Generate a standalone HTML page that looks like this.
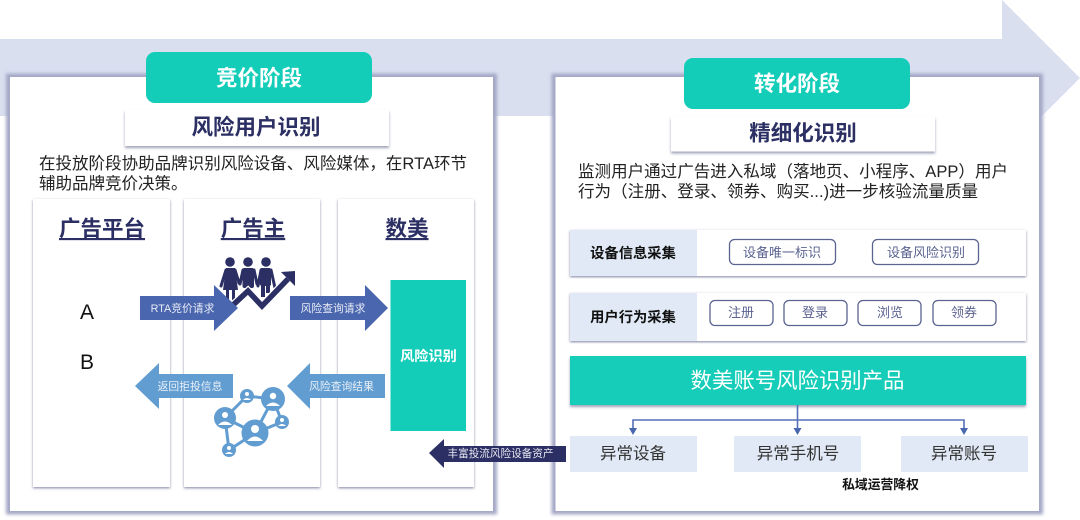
<!DOCTYPE html>
<html><head><meta charset="utf-8">
<style>
html,body{margin:0;padding:0;background:#fff;width:1080px;height:520px;overflow:hidden}
svg{display:block;filter:blur(.35px)}
text{font-family:"Liberation Sans","Noto Sans CJK SC",sans-serif}
.b{font-weight:700}
</style></head><body>
<svg width="1080" height="520" viewBox="0 0 1080 520" xmlns="http://www.w3.org/2000/svg">
<defs>
<filter id="bl" x="-5%" y="-5%" width="110%" height="110%"><feGaussianBlur stdDeviation="1.5"/></filter>
<filter id="s2" x="-5%" y="-5%" width="110%" height="110%"><feDropShadow dx="0" dy="1.2" stdDeviation="1.3" flood-color="#3a4272" flood-opacity=".6"/></filter>
<filter id="s3" x="-5%" y="-20%" width="110%" height="140%"><feDropShadow dx="0" dy="2" stdDeviation="1.2" flood-color="#2a3060" flood-opacity=".45"/></filter>
</defs>
<polygon points="0,39 1002,39 1002,0 1080,78 1002,156 1002,116 0,116" fill="#d9dfef"/>
<rect x="6" y="73.5" width="491" height="441" fill="#a4a8c6" filter="url(#bl)"/>
<rect x="10" y="77" width="483" height="434" fill="#fff"/>
<rect x="551.5" y="73.5" width="491.5" height="441" fill="#a4a8c6" filter="url(#bl)"/>
<rect x="555.5" y="77" width="483.5" height="434" fill="#fff"/>
<rect x="146" y="52" width="226" height="51" rx="9" fill="#13cdb9"/>
<text x="259" y="85.5" font-size="21.5" fill="#fff" text-anchor="middle" class="b">竞价阶段</text>
<rect x="125" y="110" width="264" height="36" fill="#fff" filter="url(#s3)"/>
<text x="256" y="134.5" font-size="21.5" fill="#2b2f63" text-anchor="middle" class="b">风险用户识别</text>
<text x="39" y="169" font-size="16.5" fill="#222" textLength="428">在投放阶段协助品牌识别风险设备、风险媒体&#xFF0C;在RTA环节</text>
<text x="39" y="189" font-size="16.5" fill="#222">辅助品牌竞价决策。</text>
<rect x="33" y="199" width="137" height="288" fill="#fff" filter="url(#s2)"/>
<rect x="184" y="199" width="136" height="288" fill="#fff" filter="url(#s2)"/>
<rect x="338" y="199" width="136" height="288" fill="#fff" filter="url(#s2)"/>
<text x="102" y="236" font-size="21.5" fill="#2b2f63" text-anchor="middle" class="b" text-decoration="underline">广告平台</text>
<text x="253" y="236" font-size="21.5" fill="#2b2f63" text-anchor="middle" class="b" text-decoration="underline">广告主</text>
<text x="407" y="236" font-size="21.5" fill="#2b2f63" text-anchor="middle" class="b" text-decoration="underline">数美</text>
<text x="87" y="319" font-size="21" fill="#111" text-anchor="middle">A</text>
<text x="87" y="369" font-size="21" fill="#111" text-anchor="middle">B</text>
<g fill="#2b2f63">
<circle cx="230" cy="262" r="4.8"/><circle cx="248" cy="262" r="4.8"/><circle cx="266" cy="262" r="4.8"/>
<polygon points="226,268 235,268 238,290 223,290"/>
<rect x="226" y="289" width="3" height="11"/><rect x="232" y="289" width="3" height="11"/>
<rect x="242.5" y="268" width="11.5" height="20" rx="2"/>
<rect x="260" y="268" width="11" height="18" rx="2"/>
<rect x="261" y="285" width="4" height="12"/><rect x="266" y="285" width="4" height="8"/>
</g>
<g stroke="#2b2f63" stroke-width="3" stroke-linecap="round" fill="none">
<path d="M226 270L221 286M235 270L239 283M243 270L240 284M254 270L257 284M261 270L258 286M271 270L275 288"/>
</g>
<polyline points="233,305 248,291 262,306 288,279" fill="none" stroke="#fff" stroke-width="8"/>
<polyline points="233,305 248,291 262,306 288,279" fill="none" stroke="#2b2f63" stroke-width="5.5"/>
<polygon points="281,272 295,271 295,286" fill="#2b2f63"/>
<polygon points="140,296 214,296 214,285 238,308 214,331 214,320 140,320" fill="#4a66ae"/>
<text x="182.5" y="312" font-size="10.8" fill="#e8ecf6" text-anchor="middle">RTA竞价请求</text>
<polygon points="290,296 365,296 365,285 388,308 365,331 365,320 290,320" fill="#4a66ae"/>
<text x="333" y="312" font-size="10.8" fill="#e8ecf6" text-anchor="middle">风险查询请求</text>
<rect x="390.5" y="280" width="75.5" height="151" fill="#13cdb9"/>
<text x="428.5" y="361" font-size="14.2" fill="#fff" text-anchor="middle" class="b">风险识别</text>
<polygon points="233,374 159,374 159,363 135,386 159,409 159,398 233,398" fill="#629dd2"/>
<text x="190" y="390" font-size="10.8" fill="#e8f0f8" text-anchor="middle">返回拒投信息</text>
<polygon points="385,374 310,374 310,363 287,386 310,409 310,398 385,398" fill="#629dd2"/>
<text x="341.5" y="390" font-size="10.8" fill="#e8f0f8" text-anchor="middle">风险查询结果</text>
<g stroke="#629dd2" stroke-width="3" fill="none"><path d="M225 418L247 396L273 399L255 433L229 450L225 418M273 399L282 422L255 433M225 418L255 433"/></g>
<g fill="#629dd2"><circle cx="225" cy="418" r="11"/><circle cx="247" cy="396" r="7"/><circle cx="273" cy="399" r="12"/><circle cx="282" cy="422" r="7"/><circle cx="255" cy="433" r="13.5"/><circle cx="229" cy="450" r="7"/></g>
<g fill="#fff"><circle cx="225" cy="415" r="3"/><path d="M218 425q7-7 14 0z"/><circle cx="247" cy="394" r="2"/><path d="M243 400q4-4 8 0z"/><circle cx="273" cy="396" r="3.2"/><path d="M266 406q7-7 14 0z"/><circle cx="282" cy="420" r="2"/><path d="M278 426q4-4 8 0z"/><circle cx="255" cy="429" r="4"/><path d="M247 441q8-9 16 0z"/><circle cx="229" cy="448" r="2"/><path d="M225 454q4-4 8 0z"/></g>
<polygon points="566,446 444,446 444,439 429,453 444,468 444,462 566,462" fill="#2b2f63"/>
<text x="500.5" y="457" font-size="10.6" fill="#e8e8f2" text-anchor="middle">丰富投流风险设备资产</text>

<rect x="684" y="58" width="226" height="51" rx="9" fill="#13cdb9"/>
<text x="797" y="91" font-size="21.5" fill="#fff" text-anchor="middle" class="b">转化阶段</text>
<rect x="671" y="117" width="264" height="34.5" fill="#fff" filter="url(#s3)"/>
<text x="803" y="140.5" font-size="21.5" fill="#2b2f63" text-anchor="middle" class="b">精细化识别</text>
<text x="578" y="177" font-size="16.5" fill="#222" textLength="430">监测用户通过广告进入私域&#xFF08;落地页、小程序、APP&#xFF09;用户</text>
<text x="578" y="197" font-size="16.5" fill="#222" textLength="400">行为&#xFF08;注册、登录、领券、购买...)进一步核验流量质量</text>

<rect x="570" y="230" width="456" height="46" fill="#fff" filter="url(#s2)"/>
<rect x="570" y="230" width="127" height="46" fill="#e0e9f5"/>
<text x="633" y="258" font-size="14.3" fill="#111" text-anchor="middle" class="b">设备信息采集</text>
<g fill="#fff" stroke="#5b6390" stroke-width="1.3">
<rect x="729.5" y="239.5" width="106" height="25" rx="5"/><rect x="872.5" y="239.5" width="106" height="25" rx="5"/>
</g>
<g font-size="13" fill="#5b6390" text-anchor="middle">
<text x="782" y="257">设备唯一标识</text><text x="926" y="257">设备风险识别</text>
</g>
<rect x="570" y="293" width="456" height="48" fill="#fff" filter="url(#s2)"/>
<rect x="570" y="293" width="127" height="48" fill="#e0e9f5"/>
<text x="633" y="322" font-size="14.3" fill="#111" text-anchor="middle" class="b">用户行为采集</text>
<g fill="#fff" stroke="#5b6390" stroke-width="1.3">
<rect x="710" y="300.5" width="63" height="25" rx="5"/><rect x="784" y="300.5" width="63" height="25" rx="5"/><rect x="858" y="300.5" width="63" height="25" rx="5"/><rect x="933" y="300.5" width="63" height="25" rx="5"/>
</g>
<g font-size="13" fill="#5b6390" text-anchor="middle">
<text x="741" y="317">注册</text><text x="815" y="317">登录</text><text x="890" y="317">浏览</text><text x="964" y="317">领券</text>
</g>
<rect x="570" y="356" width="456" height="49" fill="#13cdb9" filter="url(#s3)"/>
<text x="797.5" y="388" font-size="21.4" fill="#fff" text-anchor="middle">数美账号风险识别产品</text>
<path d="M797.5 405V430M633 430V420H964V430" fill="none" stroke="#5470b8" stroke-width="1.6"/>
<g fill="#4a66ae"><polygon points="629,428 637,428 633,435"/><polygon points="793.5,428 801.5,428 797.5,435"/><polygon points="960,428 968,428 964,435"/></g>
<rect x="570" y="436" width="127" height="36" fill="#e0e9f5"/>
<rect x="734" y="436" width="127" height="36" fill="#e0e9f5"/>
<rect x="901" y="436" width="127" height="36" fill="#e0e9f5"/>
<g font-size="16.5" fill="#333" text-anchor="middle">
<text x="633" y="459">异常设备</text><text x="798" y="459">异常手机号</text><text x="964" y="459">异常账号</text>
</g>
<text x="880.5" y="489" font-size="12.8" fill="#111" text-anchor="middle" class="b">私域运营降权</text>
</svg>
</body></html>
